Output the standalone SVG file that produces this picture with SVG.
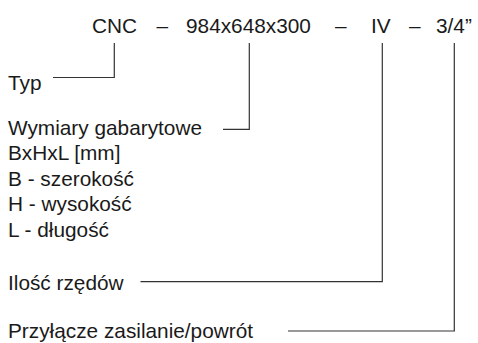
<svg xmlns="http://www.w3.org/2000/svg" width="478" height="343" viewBox="0 0 478 343">
<style>
text { font-family: "Liberation Sans", Arial, sans-serif; font-size: 20.8px; fill: #1a1a1a; }
.conn { fill: none; stroke: #333; stroke-width: 1.2; }
</style>
<rect width="478" height="343" fill="#fff"/>
<g id="code">
<text x="92" y="33">CNC</text>
<text x="156.5" y="33">–</text>
<text x="186" y="33">984x648x300</text>
<text x="335" y="33">–</text>
<text x="371" y="33">IV</text>
<text x="409" y="33">–</text>
<text x="436" y="33">3/4”</text>
</g>
<g id="typ">
<text x="8" y="90">Typ</text>
</g>
<g id="wymiary">
<text x="8" y="135">Wymiary gabarytowe</text>
<text x="8" y="160.4">BxHxL [mm]</text>
<text x="8" y="185.8">B - szerokość</text>
<text x="8" y="211.2">H - wysokość</text>
<text x="8" y="236.6">L - długość</text>
</g>
<g id="rzedy">
<text x="8" y="289.5">Ilość rzędów</text>
</g>
<g id="przylacze">
<text x="8" y="338">Przyłącze zasilanie/powrót</text>
</g>
<g id="connectors">
<path class="conn" d="M53 77.5 H114.3 V43"/>
<path class="conn" d="M223 129.3 H249.3 V43"/>
<path class="conn" d="M140.5 281.7 H382.3 V43"/>
<path class="conn" d="M288 331 H454.3 V43"/>
</g>
</svg>
